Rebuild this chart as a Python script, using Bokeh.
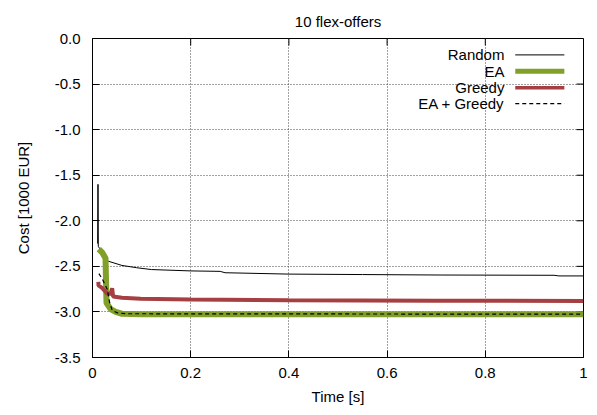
import math
from bokeh.plotting import figure
from bokeh.models import FixedTicker, Range1d
from bokeh.core.properties import value
from bokeh.embed import file_html
from bokeh.resources import INLINE

# ---- data ----
random_x = [0.0105, 0.0112, 0.0118, 0.03, 0.06, 0.09, 0.12, 0.2, 0.26, 0.27, 0.4, 0.55, 0.71, 0.94, 0.95, 1.0]
random_y = [-2.25, -1.60, -2.28, -2.44, -2.49, -2.515, -2.535, -2.55, -2.555, -2.57, -2.585, -2.59, -2.595, -2.598, -2.605, -2.605]

ea_x = [0.0128, 0.02, 0.0265, 0.0275, 0.0285, 0.037, 0.047, 0.06, 0.1, 1.0]
ea_y = [-2.31, -2.35, -2.41, -2.65, -2.90, -2.97, -3.00, -3.02, -3.025, -3.025]

greedy_x = [0.012, 0.0122, 0.02, 0.03, 0.037, 0.04, 0.042, 0.06, 0.098, 0.2, 0.4, 0.7, 1.0]
greedy_y = [-2.67, -2.71, -2.74, -2.80, -2.80, -2.74, -2.83, -2.845, -2.855, -2.865, -2.873, -2.877, -2.88]

eag_x = [0.013, 0.02, 0.03, 0.035, 0.04, 0.05, 0.07, 1.0]
eag_y = [-2.58, -2.64, -2.75, -2.90, -2.98, -3.01, -3.02, -3.025]

x_ticks = [0, 0.2, 0.4, 0.6, 0.8, 1.0]
x_tick_labels = ["0", "0.2", "0.4", "0.6", "0.8", "1"]
y_ticks = [0.0, -0.5, -1.0, -1.5, -2.0, -2.5, -3.0, -3.5]
y_tick_labels = ["0.0", "-0.5", "-1.0", "-1.5", "-2.0", "-2.5", "-3.0", "-3.5"]

series_names = ["Random", "EA", "Greedy", "EA + Greedy"]

GREEN = "#80a02a"
RED = "#a63f42"
FONT = "Liberation Sans"
FS = "15px"

p = figure(width=597, height=415, output_backend="svg", toolbar_location=None,
           x_range=Range1d(0, 1), y_range=Range1d(-3.5, 0),
           min_border_left=92, min_border_right=14, min_border_top=38, min_border_bottom=58,
           title="10 flex-offers")
p.title.align = "center"
p.title.text_font = FONT
p.title.text_font_size = FS
p.title.text_font_style = "normal"
p.title.text_color = "black"
p.title.standoff = 18

p.outline_line_color = "black"
p.outline_line_width = 1
p.outline_line_alpha = 1

p.xaxis.ticker = FixedTicker(ticks=x_ticks)
p.yaxis.ticker = FixedTicker(ticks=y_ticks)
p.xaxis.major_label_overrides = {t: l for t, l in zip(x_ticks, x_tick_labels)}
p.yaxis.major_label_overrides = {t: l for t, l in zip(y_ticks, y_tick_labels)}

for ax in (p.xaxis[0], p.yaxis[0]):
    ax.major_tick_in = 7
    ax.major_tick_out = 0
    ax.minor_tick_line_color = None
    ax.axis_line_color = "black"
    ax.major_tick_line_color = "black"
    ax.major_label_text_font = FONT
    ax.major_label_text_font_size = FS
    ax.major_label_text_color = "black"
    ax.axis_label_text_font = FONT
    ax.axis_label_text_font_size = FS
    ax.axis_label_text_font_style = "normal"
    ax.axis_label_text_color = "black"

p.xaxis.axis_label = "Time [s]"
p.yaxis.axis_label = "Cost [1000 EUR]"
p.xaxis.major_label_standoff = 10
p.yaxis.major_label_standoff = 12
p.xaxis.axis_label_standoff = 7
p.yaxis.axis_label_standoff = 20

p.xgrid.ticker = FixedTicker(ticks=x_ticks)
p.ygrid.ticker = FixedTicker(ticks=y_ticks)
p.grid.grid_line_color = "#444444"
p.grid.grid_line_dash = "1 2"
p.grid.grid_line_width = 1

# mirrored inward ticks on top and right (gnuplot style)
y_top = p.y_range.end
x_right = p.x_range.end
p.ray(x=x_ticks, y=[y_top] * len(x_ticks), length=7, length_units="screen",
      angle=-math.pi / 2, line_color="black", line_width=1)
p.ray(x=[x_right] * len(y_ticks), y=y_ticks, length=7, length_units="screen",
      angle=math.pi, line_color="black", line_width=1)

# series
p.line(random_x, random_y, line_color="black", line_width=1)
p.line(ea_x, ea_y, line_color=GREEN, line_width=6)
p.line(greedy_x, greedy_y, line_color=RED, line_width=4)
p.line(eag_x, eag_y, line_color="black", line_width=1.2, line_dash="4 3")

# manual legend (label left of sample, like gnuplot)
leg_text_x = 0.839
leg_x0, leg_x1 = 0.861, 0.961
leg_rows = [-0.18, -0.36, -0.54, -0.715]
styles = [dict(line_color="black", line_width=1),
          dict(line_color=GREEN, line_width=5),
          dict(line_color=RED, line_width=3.5),
          dict(line_color="black", line_width=1.2, line_dash="4 3")]
for name, yy, st in zip(series_names, leg_rows, styles):
    p.text(x=[leg_text_x], y=[yy], text=[name], text_align="right", text_baseline="middle",
           text_font=value(FONT), text_font_size=FS, text_color="black")
    p.line([leg_x0, leg_x1], [yy, yy], **st)

open("out.html", "w").write(file_html(p, INLINE))
